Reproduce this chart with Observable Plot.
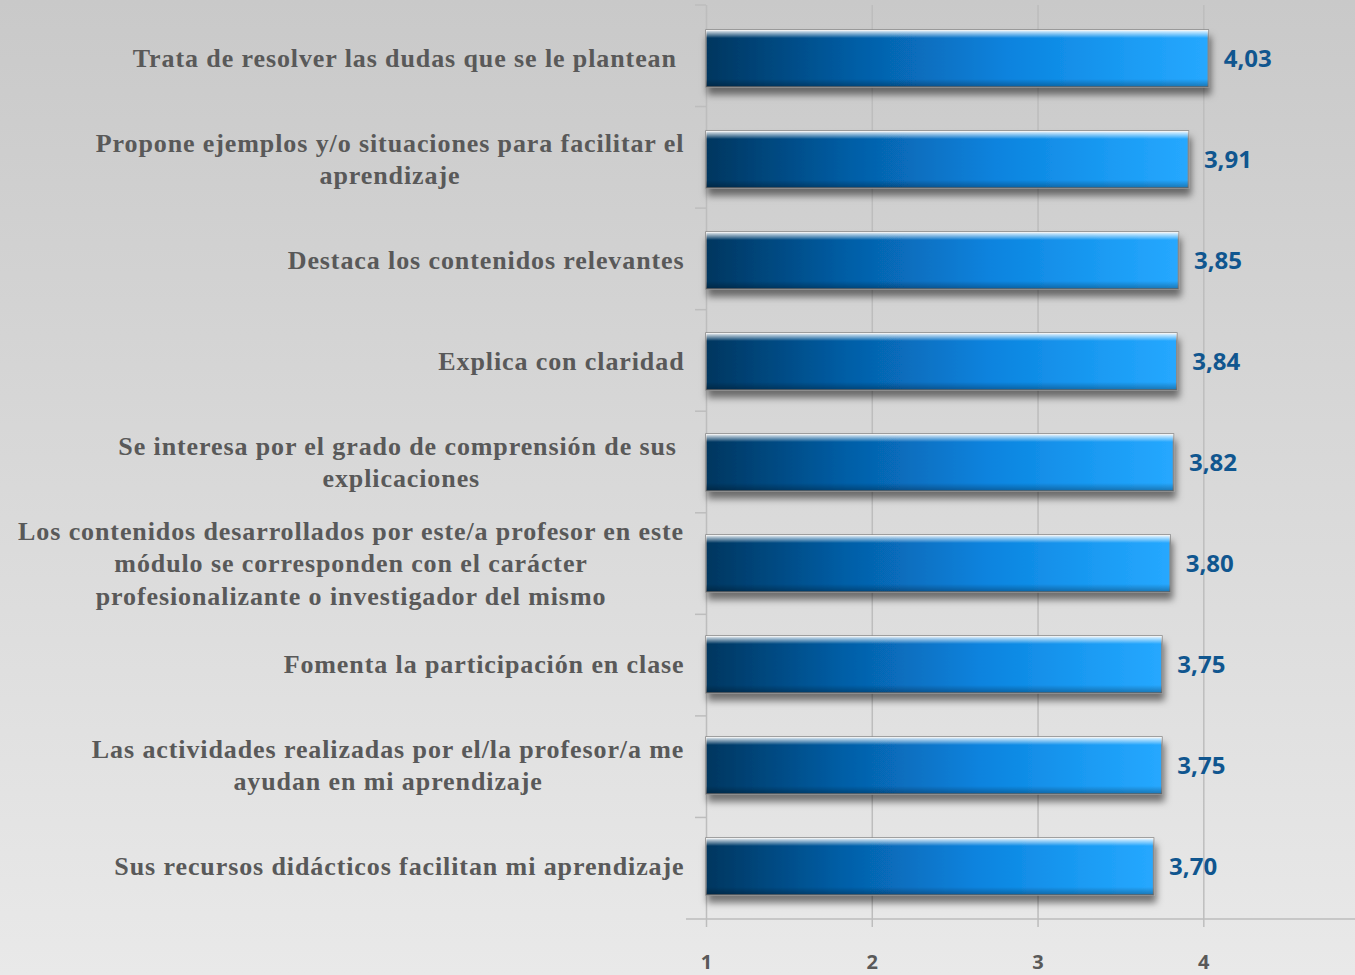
<!DOCTYPE html>
<html><head><meta charset="utf-8">
<script src="https://cdn.jsdelivr.net/npm/d3@7"></script>
<script src="https://cdn.jsdelivr.net/npm/@observablehq/plot@0.6"></script>
<style>
html,body{margin:0;padding:0;}
body{width:1355px;height:975px;overflow:hidden;background:linear-gradient(to bottom,#c9c9c9 0%,#d9d9d9 50%,#e9e9e9 100%);}
#chart svg{display:block;background:transparent;}
#chart svg text{white-space:pre;}
#chart svg g.ylab text{letter-spacing:0.9px;}
</style></head><body><div id="chart"></div>
<script>
const categories = [
  "Trata de resolver las dudas que se le plantean ",
  "Propone ejemplos y/o situaciones para facilitar el\naprendizaje",
  "Destaca los contenidos relevantes",
  "Explica con claridad",
  "Se interesa por el grado de comprensión de sus \nexplicaciones",
  "Los contenidos desarrollados por este/a profesor en este\nmódulo se corresponden con el carácter\nprofesionalizante o investigador del mismo",
  "Fomenta la participación en clase",
  "Las actividades realizadas por el/la profesor/a me\nayudan en mi aprendizaje",
  "Sus recursos didácticos facilitan mi aprendizaje"
];
const values = [4.03, 3.91, 3.85, 3.84, 3.82, 3.80, 3.75, 3.75, 3.70];
const xTicks = [1, 2, 3, 4];
const xDomain = [1, 4.915];
const baseValue = 1;

const rows = categories.map((cat, i) => ({cat, value: values[i]}));
const W = 1355, H = 975, mL = 706, mT = 5, mB = 56, mR = 0;
const gridColor = "#bdbdbd";
const labelColor = "#595959";
const labelFamily = "Liberation Serif";
const labelSize = 26;
const letterSp = 0.9;
const ctx = document.createElement("canvas").getContext("2d");
ctx.font = `bold ${labelSize}px '${labelFamily}'`;
const blockWidth = s => Math.max(...s.split("\n").map(l => ctx.measureText(l).width + letterSp * l.length));
const fmt = v => v.toFixed(2).replace(".", ",");

const extras = () => {
  const g = d3.create("svg:g");
  const defs = g.append("defs");
  const hg = defs.append("linearGradient").attr("id", "barGrad")
    .attr("x1", 0).attr("x2", 1).attr("y1", 0).attr("y2", 0);
  [[0, "#03365f"], [0.3, "#055ea6"], [0.6, "#0a83de"], [0.85, "#1b9cf4"], [1, "#26a8ff"]]
    .forEach(([o, c]) => hg.append("stop").attr("offset", o).attr("stop-color", c));
  const vg = defs.append("linearGradient").attr("id", "barShine")
    .attr("x1", 0).attr("x2", 0).attr("y1", 0).attr("y2", 1);
  [[0, "#ffffff", 0.95], [0.05, "#ffffff", 0.6], [0.14, "#ffffff", 0], [0.86, "#000000", 0], [1, "#000000", 0.3]]
    .forEach(([o, c, a]) => vg.append("stop").attr("offset", o).attr("stop-color", c).attr("stop-opacity", a));
  const f = defs.append("filter").attr("id", "barShadow")
    .attr("x", "-5%").attr("y", "-30%").attr("width", "115%").attr("height", "180%");
  f.append("feDropShadow").attr("dx", 2).attr("dy", 7).attr("stdDeviation", 3.5)
    .attr("flood-color", "#000").attr("flood-opacity", 0.5);
  const n = categories.length;
  const step = (H - mT - mB) / n;
  for (let i = 0; i <= n; i++) {
    const y = mT + i * step;
    g.append("line").attr("x1", i === n ? mL - 20 : mL - 11).attr("x2", i === n ? W : mL)
      .attr("y1", y).attr("y2", y).attr("stroke", gridColor).attr("stroke-width", 1.5);
  }
  return g.node();
};

const labelMarks = rows.map(r => Plot.text([r], {
  y: "cat", text: "cat", frameAnchor: "left", textAnchor: "middle",
  dx: -22 - blockWidth(r.cat) / 2, dy: -2, lineAnchor: "middle", lineHeight: 1.24,
  fontFamily: labelFamily, fontWeight: "bold", fontSize: labelSize, fill: labelColor
}));

const plot = Plot.plot({
  width: W, height: H,
  marginLeft: mL, marginRight: mR, marginTop: mT, marginBottom: mB,
  style: {background: "transparent", overflow: "visible"},
  x: {domain: xDomain, axis: null, label: null},
  y: {domain: categories, axis: null, label: null, paddingInner: 0.44, paddingOuter: 0.22},
  marks: [
    extras,
    Plot.gridX({ticks: xTicks.slice(1), stroke: gridColor, strokeOpacity: 1, strokeWidth: 1.5}),
    Plot.axisX({ticks: xTicks, tickSize: 8, stroke: gridColor, strokeWidth: 1.5, text: null, label: null}),
    Plot.axisX({ticks: xTicks, tickSize: 0, tickPadding: 35, fontSize: 20, fontWeight: "bold",
      fontFamily: "Open Sans", color: labelColor, label: null, tickFormat: d => String(d)}),
    Plot.ruleX([baseValue], {stroke: gridColor, strokeWidth: 1.5}),
    Plot.barX(rows, {x1: () => baseValue, x2: "value", y: "cat", fill: "url(#barGrad)",
      stroke: "#8a8a8a", strokeWidth: 1.5}),
    Plot.barX(rows, {x1: () => baseValue, x2: "value", y: "cat", fill: "url(#barShine)"}),
    Plot.text(rows, {x: "value", y: "cat", text: d => fmt(d.value), textAnchor: "start", dx: 15,
      fill: "#10568f", fontFamily: "Open Sans", fontWeight: "bold", fontSize: 24}),
    ...labelMarks
  ]
});
document.getElementById("chart").append(plot);
const barGroups = plot.querySelectorAll('g[aria-label="bar"]');
if (barGroups.length) barGroups[0].setAttribute("filter", "url(#barShadow)");
plot.querySelectorAll('g[aria-label="text"]').forEach((g, i, all) => {
  if (i >= all.length - labelMarks.length) g.classList.add("ylab");
});
</script>
</body></html>
